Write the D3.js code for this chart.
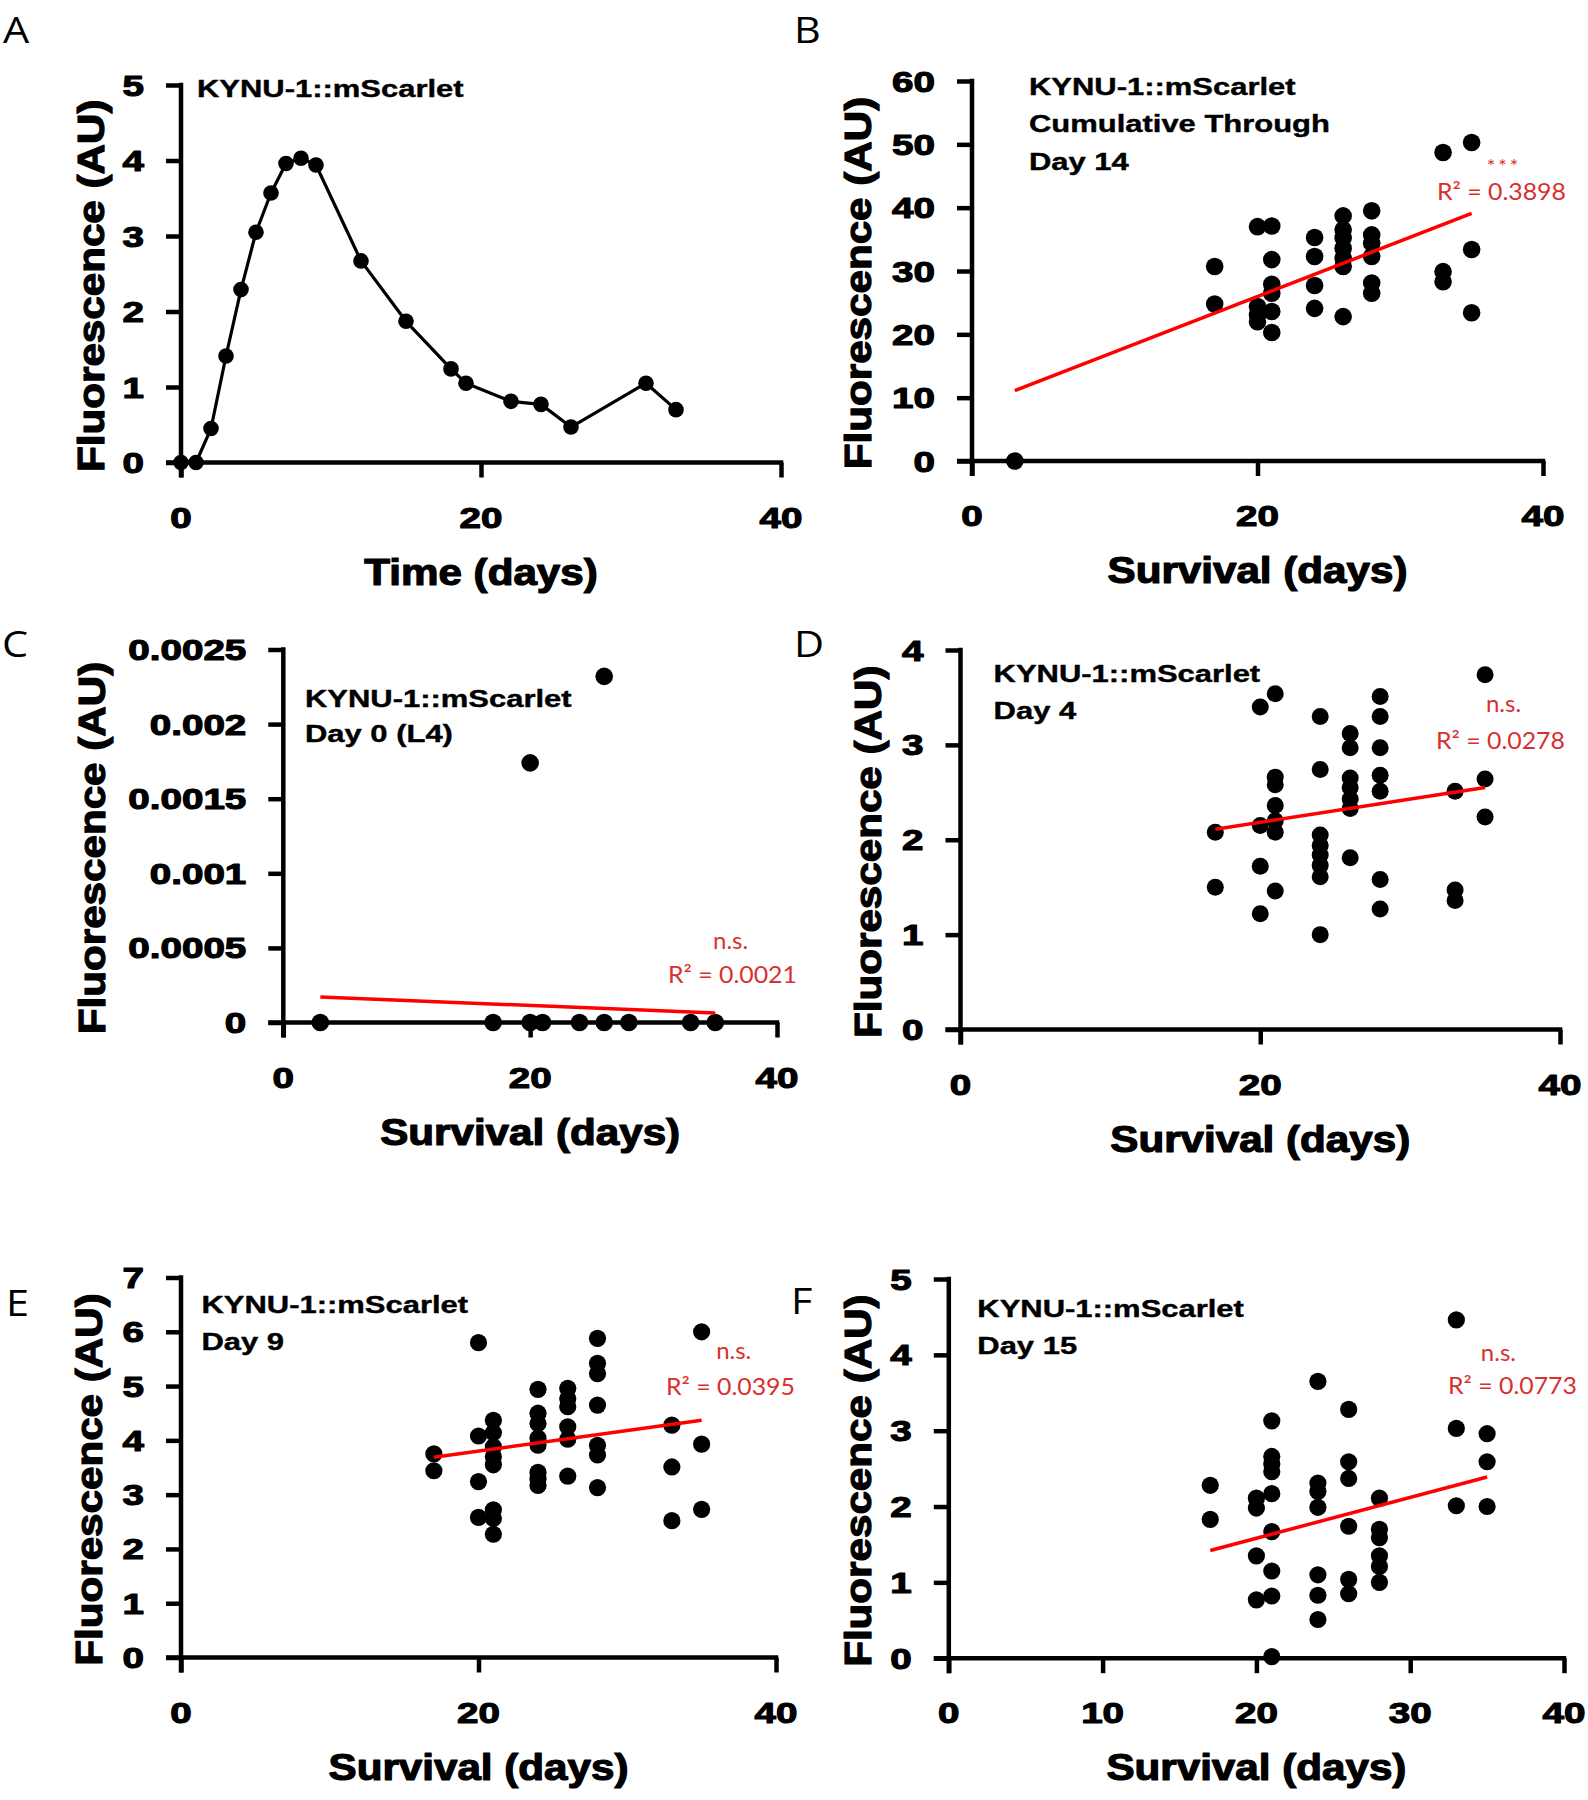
<!DOCTYPE html>
<html><head><meta charset="utf-8">
<script src="https://cdn.jsdelivr.net/npm/d3@7"></script>
<style>html,body{margin:0;padding:0;background:#fff}</style>
</head><body>
<svg id="fig" width="1588" height="1800"></svg>
<script>
// ---------------- DATA ----------------
// Panel A: time course
const timeA  = [0,1,2,3,4,5,6,7,8,9,12,15,18,19,22,24,26,31,33];
const fluorA = [0,0,0.45,1.41,2.29,3.05,3.57,3.96,4.03,3.94,2.67,1.87,1.24,1.05,0.81,0.77,0.47,1.05,0.70];

// Panel B: cumulative through day 14
const survB  = [3,17,17,20,20,20,20,21,21,21,21,21,21,24,24,24,24,26,26,26,26,26,26,26,28,28,28,28,28,28,33,33,33,35,35,35];
const fluorB = [0,30.7,24.8,37.0,24.4,23.05,22.0,37.1,31.8,27.9,26.5,23.6,20.3,35.3,32.3,27.7,24.1,38.7,36.5,35.2,33.6,32.0,30.7,22.8,39.5,35.7,34.4,32.3,28.1,26.5,48.7,29.9,28.3,50.3,33.4,23.4];
const fitB = {x:[3,35], y:[11.1,39.1]};

// Panel C: day 0 (L4)
const survC  = [3,17,20,21,24,26,28,33,35,20,26];
const fluorC = [0,0,0,0,0,0,0,0,0,0.00174,0.00232];
const fitC = {x:[3,35], y:[0.000171,0.000064]};

// Panel D: day 4
const survD  = [17,17,20,20,20,20,21,21,21,21,21,21,21,24,24,24,24,24,24,24,24,26,26,26,26,26,26,26,28,28,28,28,28,28,28,33,33,33,35,35,35];
const fluorD = [2.08,1.50,3.40,2.15,1.72,1.22,3.54,2.66,2.58,2.36,2.20,2.08,1.46,3.30,2.74,2.05,1.94,1.84,1.73,1.61,1.00,3.12,2.97,2.65,2.55,2.43,2.33,1.81,3.51,3.30,2.97,2.68,2.51,1.58,1.27,2.51,1.47,1.36,3.74,2.64,2.24];
const fitD = {x:[17,35], y:[2.11,2.55]};

// Panel E: day 9
const survE  = [17,17,20,20,20,20,21,21,21,21,21,21,21,21,24,24,24,24,24,24,24,24,26,26,26,26,26,26,28,28,28,28,28,28,28,33,33,33,35,35,35];
const fluorE = [3.75,3.44,5.80,4.08,3.24,2.58,4.37,4.14,3.88,3.70,3.55,2.72,2.56,2.27,4.94,4.50,4.31,4.04,3.91,3.41,3.29,3.17,4.96,4.77,4.62,4.25,4.02,3.34,5.88,5.42,5.23,4.65,3.91,3.73,3.13,4.28,3.51,2.52,6.00,3.93,2.73];
const fitE = {x:[17,35], y:[3.69,4.37]};

// Panel F: day 15
const survF  = [17,17,20,20,20,20,21,21,21,21,21,21,21,21,21,24,24,24,24,24,24,24,26,26,26,26,26,26,28,28,28,28,28,28,33,33,33,35,35,35];
const fluorF = [2.28,1.83,2.11,1.98,1.35,0.77,3.13,2.66,2.56,2.46,2.17,1.67,1.15,0.82,0.02,3.65,2.31,2.20,1.99,1.10,0.83,0.51,3.28,2.59,2.37,1.74,1.04,0.85,2.11,1.70,1.59,1.35,1.21,1.00,4.46,3.03,2.01,2.96,2.59,2.00];
const fitF = {x:[17,35], y:[1.42,2.39]};

// Ticks and labels
const xTicks   = [0,20,40];
const xTicksF  = [0,10,20,30,40];
const yTicksA  = [0,1,2,3,4,5];
const yTicksB  = [0,10,20,30,40,50,60];
const yTicksC  = [0,0.0005,0.001,0.0015,0.002,0.0025];
const yLabelsC = ["0","0.0005","0.001","0.0015","0.002","0.0025"];
const yTicksD  = [0,1,2,3,4];
const yTicksE  = [0,1,2,3,4,5,6,7];
const yTicksF  = [0,1,2,3,4,5];

const annA = ["KYNU-1::mScarlet"];
const annB = ["KYNU-1::mScarlet","Cumulative Through","Day 14"];
const annC = ["KYNU-1::mScarlet","Day 0 (L4)"];
const annD = ["KYNU-1::mScarlet","Day 4"];
const annE = ["KYNU-1::mScarlet","Day 9"];
const annF = ["KYNU-1::mScarlet","Day 15"];
const r2B = "R\u00B2 = 0.3898", sigB = "***";
const r2C = "R\u00B2 = 0.0021", sigC = "n.s.";
const r2D = "R\u00B2 = 0.0278", sigD = "n.s.";
const r2E = "R\u00B2 = 0.0395", sigE = "n.s.";
const r2F = "R\u00B2 = 0.0773", sigF = "n.s.";
const yTitle = "Fluorescence (AU)";

// ---------------- DRAWING ----------------
const svg = d3.select("#fig");
svg.append("rect").attr("width",1588).attr("height",1800).attr("fill","#fff");

const BOLD = "'Liberation Sans', Arial, Helvetica, sans-serif";
const LIGHT = "Lato, 'Open Sans', sans-serif";
const LETTER = "'Open Sans', Lato, sans-serif";
const RED_TXT = "#d8302f";

function txt(g, s, x, y, o = {}) {
  const t = g.append("text")
    .attr("text-anchor", o.anchor || "start")
    .attr("font-family", o.family || BOLD)
    .attr("font-size", o.size || 20)
    .attr("font-weight", o.weight || "normal")
    .attr("fill", o.fill || "#000")
    .attr("letter-spacing", o.ls || null)
    .text(s);
  if (o.stroke) t.attr("stroke", o.fill || "#000").attr("stroke-width", o.stroke).attr("stroke-linejoin", "round");
  let sx = o.sx || 1;
  if (o.w) { const n = t.node().getComputedTextLength(); if (n > 0) sx = o.w / n; }
  t.attr("transform", `translate(${x},${y})` + (o.rot ? ` rotate(${o.rot})` : "") + ` scale(${sx},1)`);
  return t;
}

const TICK = 15, SW = 4.5;

function panel(c) {
  const g = svg.append("g");
  const x = d3.scaleLinear().domain([0, 40]).range(c.xr);
  const y = d3.scaleLinear().domain([0, c.ymax]).range(c.yr);

  // ticks via d3 axes
  g.append("g").attr("transform", `translate(${x(0)},0)`)
    .call(d3.axisLeft(y).tickValues(c.yTicks).tickSize(TICK).tickFormat(""))
    .call(a => { a.select(".domain").remove(); a.selectAll("line").attr("stroke", "#000").attr("stroke-width", SW); });
  g.append("g").attr("transform", `translate(0,${y(0)})`)
    .call(d3.axisBottom(x).tickValues(c.xTicks).tickSize(TICK).tickFormat(""))
    .call(a => { a.select(".domain").remove(); a.selectAll("line").attr("stroke", "#000").attr("stroke-width", SW); });
  // axis lines
  g.append("line").attr("x1", x(0)).attr("x2", x(0)).attr("y1", y(0) + TICK).attr("y2", y(c.ymax) - SW / 2)
    .attr("stroke", "#000").attr("stroke-width", SW);
  g.append("line").attr("x1", x(0) - TICK).attr("x2", x(40) + SW / 2).attr("y1", y(0)).attr("y2", y(0))
    .attr("stroke", "#000").attr("stroke-width", SW);

  // tick labels
  c.yTicks.forEach((v, i) => txt(g, c.yLabels ? c.yLabels[i] : String(v), x(0) - 37, y(v) + 10.5,
    { size: 29, weight: "bold", sx: 1.33, anchor: "end", stroke: 1.1 }));
  c.xTicks.forEach(v => txt(g, String(v), x(v), y(0) + 65, { size: 29, weight: "bold", sx: 1.33, anchor: "middle", stroke: 1.1 }));

  // axis titles
  txt(g, c.xTitle, (c.xr[0] + c.xr[1]) / 2, y(0) + 122, { size: 37, weight: "bold", sx: 1.14, anchor: "middle", stroke: 1.2 });
  txt(g, yTitle, c.yTitleX, (c.yr[0] + c.yr[1]) / 2 + 12, { size: 37, weight: "bold", sx: 1.14, anchor: "middle", rot: -90, stroke: 1.2 });

  // panel letter
  txt(g, c.letter[0], c.letter[1], c.letter[2], { size: 37, family: LETTER, weight: 400, sx: 1.12 });

  // annotation
  c.ann.forEach((s, i) => txt(g, s, c.annX, c.annY[i], { size: 24, weight: "bold", sx: 1.29, stroke: 0.4 }));

  // data
  if (c.line) {
    const ln = d3.line().x((d, i) => x(c.xs[i])).y((d, i) => y(c.ys[i]));
    g.append("path").datum(c.xs).attr("d", ln).attr("fill", "none").attr("stroke", "#000")
      .attr("stroke-width", 3.2).attr("stroke-linejoin", "round");
  }
  g.append("g").selectAll("circle").data(c.xs).join("circle")
    .attr("cx", (d) => x(d)).attr("cy", (d, i) => y(c.ys[i])).attr("r", c.r).attr("fill", "#000");

  if (c.fit) {
    g.append("line").attr("x1", x(c.fit.x[0])).attr("y1", y(c.fit.y[0]))
      .attr("x2", x(c.fit.x[1])).attr("y2", y(c.fit.y[1]))
      .attr("stroke", "#ff0000").attr("stroke-width", 3.5);
    txt(g, c.r2, c.r2x, c.r2y, { size: 24, family: LIGHT, fill: RED_TXT, w: 129 });
    const star = c.sig === "***";
    txt(g, c.sig, c.sigx, c.sigy, { size: star ? 20 : 24, family: LIGHT, fill: RED_TXT, anchor: "middle", ls: star ? 3 : null });
  }
}

panel({ xr: [181, 781], yr: [462.5, 85], ymax: 5, yTicks: yTicksA, xTicks: xTicks, xTitle: "Time (days)",
  yTitleX: 104, letter: ["A", 3, 43], ann: annA, annX: 197, annY: [97],
  xs: timeA, ys: fluorA, r: 7.8, line: true });

panel({ xr: [972, 1543], yr: [461, 81], ymax: 60, yTicks: yTicksB, xTicks: xTicks, xTitle: "Survival (days)",
  yTitleX: 871, letter: ["B", 794, 43], ann: annB, annX: 1029, annY: [95, 132, 169.5],
  xs: survB, ys: fluorB, r: 8.8, fit: fitB, r2: r2B, r2x: 1437, r2y: 200, sig: sigB, sigx: 1504, sigy: 173 });

panel({ xr: [283.3, 777], yr: [1022.5, 649.5], ymax: 0.0025, yTicks: yTicksC, yLabels: yLabelsC, xTicks: xTicks, xTitle: "Survival (days)",
  yTitleX: 104.6, letter: ["C", 2, 657], ann: annC, annX: 305, annY: [707, 742],
  xs: survC, ys: fluorC, r: 8.8, fit: fitC, r2: r2C, r2x: 668, r2y: 983, sig: sigC, sigx: 730.6, sigy: 949 });

panel({ xr: [960.5, 1560], yr: [1029.5, 650], ymax: 4, yTicks: yTicksD, xTicks: xTicks, xTitle: "Survival (days)",
  yTitleX: 881, letter: ["D", 794, 657], ann: annD, annX: 993.6, annY: [682.3, 719.4],
  xs: survD, ys: fluorD, r: 8.5, fit: fitD, r2: r2D, r2x: 1436, r2y: 749, sig: sigD, sigx: 1503.5, sigy: 712 });

panel({ xr: [181, 776], yr: [1657.5, 1277.5], ymax: 7, yTicks: yTicksE, xTicks: xTicks, xTitle: "Survival (days)",
  yTitleX: 102, letter: ["E", 6, 1316], ann: annE, annX: 201.5, annY: [1312.5, 1349.5],
  xs: survE, ys: fluorE, r: 8.6, fit: fitE, r2: r2E, r2x: 666, r2y: 1395, sig: sigE, sigx: 733.7, sigy: 1359 });

panel({ xr: [948.8, 1564], yr: [1658.2, 1279], ymax: 5, yTicks: yTicksF, xTicks: xTicksF, xTitle: "Survival (days)",
  yTitleX: 871, letter: ["F", 791, 1314], ann: annF, annX: 977.3, annY: [1317, 1354],
  xs: survF, ys: fluorF, r: 8.6, fit: fitF, r2: r2F, r2x: 1448, r2y: 1394, sig: sigF, sigx: 1498.4, sigy: 1360.6 });
</script>
</body></html>
